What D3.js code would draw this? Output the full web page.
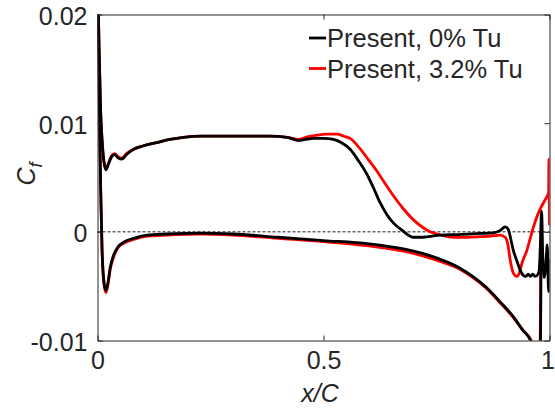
<!DOCTYPE html>
<html>
<head>
<meta charset="utf-8">
<script src="https://cdn.jsdelivr.net/npm/d3@7"></script>
<style>
  body { margin: 0; background: #fff; }
  svg text { font-family: "Liberation Sans", Arial, sans-serif; fill: #262626; }
</style>
</head>
<body>
<div id="chart-container"></div>
<script>

// tick values
let xTicks = [0, 0.5, 1];
let yTicks = [-0.01, 0, 0.01, 0.02];

let legendLabels = ["Present, 0% Tu", "Present, 3.2% Tu"];

// [x/C, Cf]
let upper0 = [[0.001, 0.022], [0.004, 0.016], [0.007, 0.011], [0.010, 0.0085], [0.014, 0.0065], [0.0186, 0.0057],
    [0.024, 0.0062], [0.031, 0.0069], [0.038, 0.0071], [0.046, 0.0068], [0.054, 0.0067], [0.064, 0.0071],
    [0.08, 0.0076], [0.10, 0.0079], [0.13, 0.0082], [0.16, 0.0085], [0.19, 0.0087], [0.23, 0.0088],
    [0.30, 0.0088], [0.38, 0.0088], [0.42, 0.0087], [0.445, 0.0084], [0.46, 0.0085], [0.477, 0.0086],
    [0.50, 0.0086], [0.522, 0.0085], [0.54, 0.0082], [0.559, 0.0076], [0.578, 0.0065], [0.596, 0.0053],
    [0.61, 0.0041], [0.625, 0.0027], [0.64, 0.0016], [0.655, 0.0008], [0.675, 0.0001], [0.699, -0.0005],
    [0.72, -0.0005], [0.758, -0.0003], [0.80, -0.00025], [0.847, -0.00015], [0.875, -0.0001], [0.89, 0.0001],
    [0.902, 0.00045], [0.909, 0.0002], [0.915, -0.0008], [0.92, -0.0017], [0.928, -0.0027], [0.935, -0.0035],
    [0.942, -0.0040], [0.948, -0.0041], [0.953, -0.0039], [0.958, -0.0041], [0.963, -0.0039], [0.968, -0.0041],
    [0.973, -0.0040], [0.977, -0.0036], [0.980, -0.001], [0.9825, 0.0019], [0.985, -0.002], [0.988, -0.0042],
    [0.992, -0.003], [0.995, -0.0012], [0.998, -0.0055], [1.0, -0.0025]];

let lower0 = [[0.001, 0.021], [0.004, 0.012], [0.007, 0.004], [0.010, -0.0015], [0.014, -0.0045], [0.0186, -0.0054],
    [0.023, -0.0047], [0.028, -0.0033], [0.035, -0.0022], [0.045, -0.0014], [0.06, -0.0009], [0.08, -0.0006],
    [0.11, -0.0003], [0.153, -0.0002], [0.23, -0.00012], [0.30, -0.0002], [0.40, -0.0005], [0.50, -0.0008],
    [0.60, -0.0011], [0.68, -0.0016], [0.75, -0.0024], [0.80, -0.0033], [0.83, -0.0041], [0.86, -0.0051],
    [0.89, -0.0064], [0.92, -0.0078], [0.94, -0.009], [0.96, -0.0102], [0.97, -0.013], [0.977, -0.016],
    [0.979, -0.014], [0.9805, -0.008], [0.9815, -0.002], [0.982, 0.0015]];

let upper32 = [[0.001, 0.022], [0.004, 0.016], [0.007, 0.011], [0.010, 0.0086], [0.014, 0.0066], [0.0186, 0.0058],
    [0.024, 0.0063], [0.031, 0.0070], [0.038, 0.0072], [0.046, 0.0069], [0.054, 0.0068], [0.064, 0.0072],
    [0.08, 0.0076], [0.10, 0.0079], [0.13, 0.0082], [0.16, 0.0085], [0.19, 0.0087], [0.23, 0.0088],
    [0.30, 0.0088], [0.38, 0.0088], [0.42, 0.0087], [0.445, 0.0085], [0.46, 0.0087], [0.48, 0.00885],
    [0.507, 0.0090], [0.53, 0.0090], [0.545, 0.0088], [0.559, 0.0086], [0.58, 0.0077], [0.60, 0.0066],
    [0.618, 0.0056], [0.637, 0.0044], [0.655, 0.0033], [0.677, 0.0021], [0.699, 0.0011], [0.72, 0.0004],
    [0.736, 0.0], [0.76, -0.0003], [0.788, -0.0005], [0.82, -0.0005], [0.847, -0.00045], [0.87, -0.0004],
    [0.891, -0.0003], [0.902, -0.0005], [0.908, -0.0012], [0.913, -0.0026], [0.92, -0.0038], [0.928, -0.0041],
    [0.934, -0.0037], [0.939, -0.0029], [0.95, -0.0017], [0.958, -0.0005], [0.965, 0.0005], [0.975, 0.0017],
    [0.987, 0.0027], [0.995, 0.0033], [0.998, 0.0036], [0.9988, 0.0067], [1.0, 0.0006]];

let lower32 = [[0.001, 0.021], [0.004, 0.012], [0.007, 0.004], [0.010, -0.0016], [0.014, -0.0047], [0.0186, -0.0056],
    [0.023, -0.0049], [0.028, -0.0035], [0.035, -0.0024], [0.045, -0.0015], [0.06, -0.001], [0.08, -0.0007],
    [0.11, -0.0004], [0.153, -0.0003], [0.23, -0.0002], [0.30, -0.0003], [0.40, -0.0006], [0.50, -0.0009],
    [0.60, -0.0013], [0.68, -0.0018], [0.75, -0.0026], [0.80, -0.0034], [0.83, -0.0042], [0.86, -0.0052],
    [0.89, -0.0065], [0.92, -0.0079], [0.94, -0.009], [0.962, -0.0102], [0.97, -0.013], [0.977, -0.015],
    [0.9795, -0.01], [0.9805, -0.003], [0.981, 0.0]];

let w = 555;
let h = 408;
let padLeft = 97.5, padRight = 549.5, padTop = 14.5, padBottom = 340.5;

const svg = d3.select("#chart-container")
    .append("svg")
    .attr("width", w)
    .attr("height", h);

let xScale = d3.scaleLinear()
    .domain([0, 1])
    .range([padLeft, padRight]);

let yScale = d3.scaleLinear()
    .domain([-0.01, 0.02])
    .range([padBottom, padTop]);

svg.append("clipPath")
    .attr("id", "plot-clip")
    .append("rect")
    .attr("x", padLeft)
    .attr("y", padTop)
    .attr("width", padRight - padLeft)
    .attr("height", padBottom - padTop);

// zero line
svg.append("line")
    .attr("x1", xScale(0))
    .attr("x2", xScale(1))
    .attr("y1", yScale(0))
    .attr("y2", yScale(0))
    .attr("stroke", "#000")
    .attr("stroke-width", 0.9)
    .attr("stroke-dasharray", "3,2");

let line = d3.line()
    .x(d => xScale(d[0]))
    .y(d => yScale(d[1]))
    .curve(d3.curveMonotoneX);

let plot = svg.append("g").attr("clip-path", "url(#plot-clip)");

let series = [
    {data: lower32, color: "#ff0000"},
    {data: upper32, color: "#ff0000"},
    {data: lower0, color: "#000000"},
    {data: upper0, color: "#000000"}
];

series.forEach(s => {
    plot.append("path")
        .datum(s.data)
        .attr("d", line)
        .attr("fill", "none")
        .attr("stroke", s.color)
        .attr("stroke-width", 2.8)
        .attr("stroke-linejoin", "round");
});

// plain hyphen minus like the original
let fmt = d => d3.format("~g")(d).replace("\u2212", "-");

// axes, MATLAB style box with inward ticks
const xAxis = d3.axisBottom(xScale).tickValues(xTicks).tickSizeInner(-5).tickSizeOuter(0).tickPadding(10).tickFormat(fmt);
const yAxis = d3.axisLeft(yScale).tickValues(yTicks).tickSizeInner(-5).tickSizeOuter(0).tickPadding(10).tickFormat(fmt);
const xAxisTop = d3.axisTop(xScale).tickValues(xTicks).tickSizeInner(-5).tickSizeOuter(0).tickFormat("");
const yAxisRight = d3.axisRight(yScale).tickValues(yTicks).tickSizeInner(-5).tickSizeOuter(0).tickFormat("");

let gx = svg.append("g").attr("transform", "translate(0," + padBottom + ")").call(xAxis);
let gy = svg.append("g").attr("transform", "translate(" + padLeft + ",0)").call(yAxis);
let gxt = svg.append("g").attr("transform", "translate(0," + padTop + ")").call(xAxisTop);
let gyr = svg.append("g").attr("transform", "translate(" + padRight + ",0)").call(yAxisRight);

[gx, gy, gxt, gyr].forEach(g => {
    g.select(".domain").attr("stroke", "#262626").attr("stroke-width", 1);
    g.selectAll(".tick line").attr("stroke", "#262626").attr("stroke-width", 1);
    g.selectAll(".tick text").attr("font-size", 25).attr("fill", "#262626").style("font-family", "'Liberation Sans', Arial, sans-serif");
});

gx.selectAll(".tick text").attr("dy", "0.75em");
// keep the "1" inside the window edge
gx.selectAll(".tick text").filter(d => d === 1).attr("dx", -2);
gy.selectAll(".tick text").attr("dy", "0.4em");

// axis labels
svg.append("text")
    .attr("x", 320)
    .attr("y", 402)
    .attr("text-anchor", "middle")
    .attr("font-size", 25)
    .style("font-style", "italic")
    .text("x/C");

let ylab = svg.append("text")
    .attr("transform", "translate(35,174) rotate(-90)")
    .attr("text-anchor", "middle")
    .attr("font-size", 25)
    .style("font-style", "italic");
ylab.append("tspan").text("C");
ylab.append("tspan").attr("font-size", 18).attr("dy", 7).text("f");

// legend
let legendColors = ["#000000", "#ff0000"];
let legend = svg.append("g");
legendLabels.forEach((lab, i) => {
    legend.append("line")
        .attr("x1", 309)
        .attr("x2", 326)
        .attr("y1", 38 + i * 30.5)
        .attr("y2", 38 + i * 30.5)
        .attr("stroke", legendColors[i])
        .attr("stroke-width", 2.8);
    legend.append("text")
        .attr("x", 327)
        .attr("y", 47 + i * 30.5)
        .attr("font-size", 25.5)
        .attr("fill", "#000")
        .text(lab);
});

</script>
</body>
</html>
